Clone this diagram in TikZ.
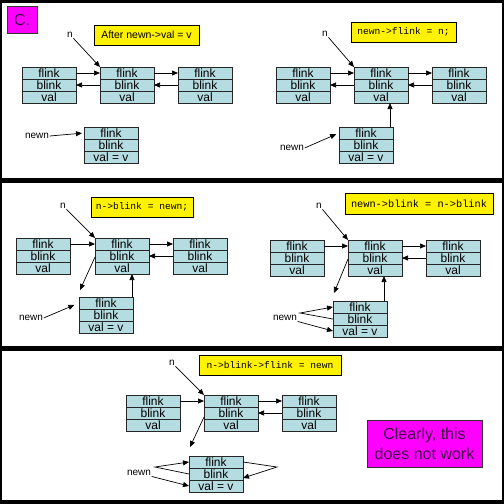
\documentclass[tikz,border=0pt]{standalone}
\usepackage{fontspec}
\setmainfont{Liberation Sans}
\newfontfamily\codefont{Liberation Mono}
\usetikzlibrary{arrows.meta}
\definecolor{cellc}{RGB}{180,220,225}
\definecolor{darkpurp}{RGB}{60,0,70}
\definecolor{magc}{RGB}{255,0,255}
\newcommand\mkstruct[4]{%
  \node[cell, anchor=north west] (#1-f) at (#2,#3) {flink};
  \node[cell, anchor=north] (#1-b) at (#1-f.south) {blink};
  \node[cell, anchor=north] (#1-v) at (#1-b.south) {#4};
}
\begin{document}
\begin{tikzpicture}[x=1pt,y=-1pt,
  cell/.style={draw=black!85, fill=cellc, line width=0.7pt, minimum width=54pt,
    minimum height=12pt, inner sep=0pt, outer sep=0pt, text height=8.6pt, text depth=0pt,
    font=\fontsize{12}{12}\selectfont},
  arr/.style={-{Triangle[length=6pt,width=5pt]}, line width=0.7pt},
  lbl/.style={inner sep=0.5pt, font=\fontsize{10}{12}\selectfont},
  ybox/.style={draw=black, fill=yellow, line width=0.7pt, inner sep=0pt},
  code/.style={ybox, font=\codefont\fontsize{9.6}{11}\selectfont},
  mag/.style={draw=black!80, fill=magc, line width=0.7pt, inner sep=0pt,
    text=darkpurp, font=\fontsize{16}{20}\selectfont, align=center}
]
\useasboundingbox (0,0) rectangle (504,504);
\fill[black] (0,0) rectangle (504,504);
\fill[white] (2,3) rectangle (502,178);
\fill[white] (2,183) rectangle (502,346);
\fill[white] (2,351) rectangle (502,500);

\node[mag, minimum width=30pt, minimum height=27pt] (cbox) at (22,19.5) {C.};

% ---------- panel 1 ----------
\mkstruct{L1}{22}{67}{val}
\mkstruct{M1}{100}{67}{val}
\mkstruct{R1}{178}{67}{val}
\mkstruct{N1}{84}{127}{val = v}
\node[ybox, minimum width=105pt, minimum height=20pt, font=\fontsize{10.5}{12}\selectfont] (y1) at (146.5,35) {After newn->val = v};
\node[lbl] (n1) at (70,35) {n};
\node[lbl] (w1) at (37,136) {newn};
\draw[arr] (n1.south east) -- (M1-f.north west);
\draw[arr] (L1-f.east) -- (M1-f.west);
\draw[arr] (M1-b.west) -- (L1-b.east);
\draw[arr] (M1-f.east) -- (R1-f.west);
\draw[arr] (R1-b.west) -- (M1-b.east);
\draw[arr, shorten >=2pt] (w1.east) -- (N1-f.west);

% ---------- panel 2 ----------
\mkstruct{L2}{276}{67}{val}
\mkstruct{M2}{354}{67}{val}
\mkstruct{R2}{432}{67}{val}
\mkstruct{N2}{339}{127}{val = v}
\node[code, minimum width=105pt, minimum height=20pt] (y2) at (403.5,32) {newn->flink = n;};
\node[lbl] (n2) at (325,34) {n};
\node[lbl] (w2) at (292,148) {newn};
\draw[arr] (n2.south east) -- (M2-f.north west);
\draw[arr] (L2-f.east) -- (M2-f.west);
\draw[arr] (M2-b.west) -- (L2-b.east);
\draw[arr] (M2-f.east) -- (R2-f.west);
\draw[arr] (R2-b.west) -- (M2-b.east);
\draw[arr, shorten >=3pt] (w2.east) -- (N2-f.west);
\draw[arr] ([xshift=-3pt]N2-f.north east) -- ([xshift=-3pt]N2-f.north east |- M2-v.south);

% ---------- panel 3 ----------
\mkstruct{L3}{16}{238}{val}
\mkstruct{M3}{95}{238}{val}
\mkstruct{R3}{173}{238}{val}
\mkstruct{N3}{79}{297}{val = v}
\node[code, minimum width=102pt, minimum height=20pt] (y3) at (142,207) {n->blink = newn;};
\node[lbl] (n3) at (63,206) {n};
\node[lbl] (w3) at (31,318) {newn};
\coordinate (t3) at ([shift={(1pt,7pt)}]N3-f.north west);
\draw[arr] (n3.south east) -- (M3-f.north west);
\draw[arr] (L3-f.east) -- (M3-f.west);
\draw[arr] (M3-f.east) -- (R3-f.west);
\draw[arr] (R3-b.west) -- (M3-b.east);
\draw[arr] ([yshift=-1pt]M3-b.west) -- (t3);
\draw[arr, shorten >=5pt] (w3.east) -- (N3-f.west);
\draw[arr] ([xshift=-1pt]N3-f.north east) -- ([xshift=-1pt]N3-f.north east |- M3-v.south);

% ---------- panel 4 ----------
\mkstruct{L4}{270}{240}{val}
\mkstruct{M4}{348}{240}{val}
\mkstruct{R4}{426}{240}{val}
\mkstruct{N4}{333}{301}{val = v}
\node[code, minimum width=148pt, minimum height=21pt, font=\codefont\fontsize{10.3}{11}\selectfont] (y4) at (419,203.5) {newn->blink = n->blink};
\node[lbl] (n4) at (319,206) {n};
\node[lbl] (w4) at (285,318) {newn};
\coordinate (t4) at ([shift={(1pt,8pt)}]N4-f.north west);
\coordinate (v4) at (300,313);
\draw[arr] (n4.south east) -- (M4-f.north west);
\draw[arr] (L4-f.east) -- (M4-f.west);
\draw[arr] (M4-f.east) -- (R4-f.west);
\draw[arr] (R4-b.west) -- (M4-b.east);
\draw[arr] ([yshift=-1pt]M4-b.west) -- (t4);
\draw[arr] ([xshift=-3pt]N4-f.north east) -- ([xshift=-3pt]N4-f.north east |- M4-v.south);
\draw[arr] (N4-b.west) -- (v4) -- (N4-f.west);
\draw[arr] (w4.south east) -- (N4-v.west);

% ---------- panel 5 ----------
\mkstruct{L5}{126}{395}{val}
\mkstruct{M5}{204}{395}{val}
\mkstruct{R5}{282}{395}{val}
\mkstruct{N5}{189}{456}{val = v}
\node[code, minimum width=142pt, minimum height=20pt] (y5) at (270,365) {n->blink->flink = newn};
\node[lbl] (n5) at (172,363) {n};
\node[lbl] (w5) at (139,473) {newn};
\coordinate (t5) at ([shift={(1pt,9pt)}]N5-f.north west);
\coordinate (v5l) at (155,467);
\coordinate (v5r) at (277,467);
\draw[arr] (n5.south east) -- (M5-f.north west);
\draw[arr] (L5-f.east) -- (M5-f.west);
\draw[arr] (M5-f.east) -- (R5-f.west);
\draw[arr] (R5-b.west) -- (M5-b.east);
\draw[arr] ([yshift=-4pt]M5-b.west) -- (t5);
\draw[arr] (N5-b.west) -- (v5l) -- (N5-f.west);
\draw[arr] (N5-f.east) -- (v5r) -- ([yshift=-4pt]N5-b.east);
\draw[arr] (w5.south east) -- (N5-v.west);

\node[mag, minimum width=115pt, minimum height=47pt] (clear) at (424.5,443.5) {Clearly, this\\does not work};
\end{tikzpicture}
\end{document}
